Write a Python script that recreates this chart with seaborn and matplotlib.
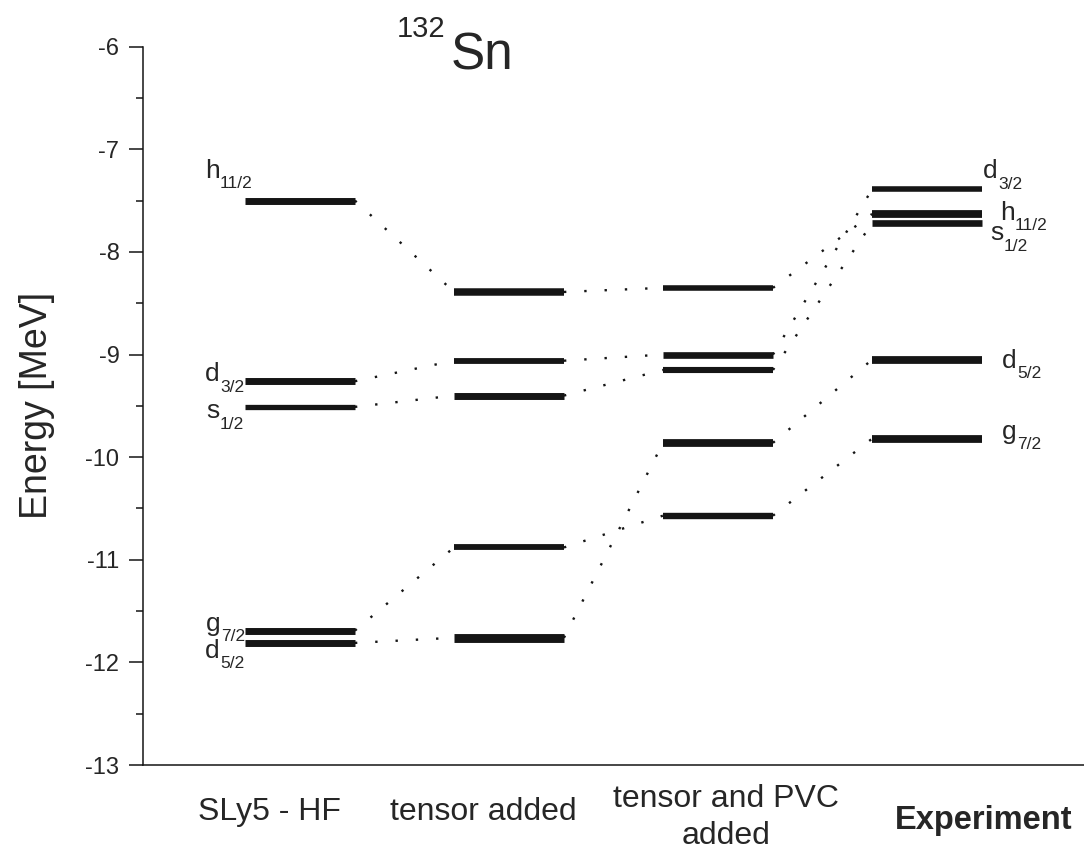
import numpy as np
import pandas as pd
import matplotlib
matplotlib.use("Agg")
import matplotlib.pyplot as plt
import seaborn as sns

# Single-particle proton levels in 132Sn (MeV)
columns = ["SLy5 - HF", "tensor added", "tensor and PVC\nadded", "Experiment"]
orbitals = ["h11/2", "d3/2", "s1/2", "g7/2", "d5/2"]
orb_letter = ["h", "d", "s", "g", "d"]
orb_j = ["11/2", "3/2", "1/2", "7/2", "5/2"]

e_hf = [-7.50, -9.26, -9.51, -11.69, -11.81]
e_tensor = [-8.39, -9.06, -9.40, -10.88, -11.76]
e_pvc = [-8.35, -9.00, -9.15, -10.57, -9.86]
e_exp = [-7.63, -7.39, -7.72, -9.82, -9.05]

yticks = [-13, -12, -11, -10, -9, -8, -7, -6]

# ---- style / layout -------------------------------------------------------
sns.set_theme(style="ticks")
plt.rcParams["font.family"] = ["Liberation Sans", "DejaVu Sans"]

INK = "#151515"
TXT = "#262626"
HALF = 0.263                      # half width of a level bar (column units)
col_x = np.arange(len(columns))   # column centres
label_x = [-0.144, 0.876, 2.038, 3.273]
label_pad = [34, 34, 38, 40]

# bar thickness (pt) per column / orbital
bar_lw = [
    [5.0, 5.0, 3.8, 5.0, 5.0],
    [5.4, 4.2, 5.0, 4.2, 6.4],
    [4.0, 4.8, 4.4, 4.6, 5.6],
    [5.6, 4.0, 4.8, 5.6, 5.6],
]

# level-label offsets (points) relative to the bar ends
hf_off = [(-28.8, 16.6), (-28.8, 0.0), (-28.0, -8.0), (-28.0, 0.0), (-28.8, -10.8)]
exp_off = [(13.0, -4.3), (0.8, 8.0), (5.8, -12.2), (14.4, 0.0), (14.4, -5.8)]

fig = plt.figure(figsize=(10.84, 8.57), dpi=100)
ax = fig.add_axes([143 / 1084, 92 / 857, 1 - 143 / 1084, (765 - 46.7) / 857])

levels = [e_hf, e_tensor, e_pvc, e_exp]

# dotted connectors between neighbouring columns
rows = []
for c in range(len(columns) - 1):
    for k, orb in enumerate(orbitals):
        seg = f"{orb}-{c}"
        rows.append({"seg": seg, "x": col_x[c] + HALF, "E": levels[c][k]})
        rows.append({"seg": seg, "x": col_x[c + 1] - HALF, "E": levels[c + 1][k]})
conn = pd.DataFrame(rows)
sns.lineplot(data=conn, x="x", y="E", units="seg", estimator=None, sort=False,
             color=INK, linewidth=1.7, linestyle=(0, (1, 7.6)), ax=ax,
             legend=False)

# level bars
for c, vals in enumerate(levels):
    for k, e in enumerate(vals):
        ax.hlines(e, col_x[c] - HALF, col_x[c] + HALF, color=INK,
                  linewidth=bar_lw[c][k], capstyle="butt", zorder=3)


def level_label(xy, off, letter, j):
    """Orbital name with a dropped j subscript."""
    main = ax.annotate(letter, xy=xy, xytext=off, textcoords="offset points",
                       ha="left", va="baseline", fontsize=19, color=TXT)
    ax.annotate(j, xy=(1, 0), xycoords=main, xytext=(0.2, -4.0),
                textcoords="offset points", ha="left", va="baseline",
                fontsize=12.5, color=TXT)


# orbital labels: left of the HF column, right of the experimental column
for k in range(len(orbitals)):
    level_label((col_x[0] - HALF, e_hf[k]), hf_off[k], orb_letter[k], orb_j[k])
    level_label((col_x[-1] + HALF, e_exp[k]), exp_off[k], orb_letter[k], orb_j[k])

# axes
ax.set_xlim(-0.751, 3.751)
ax.set_ylim(-13, -6)
ax.set_yticks(yticks)
ax.set_yticklabels([str(t) for t in yticks])
ax.set_yticks(np.arange(-12.5, -6, 1.0), minor=True)
ax.tick_params(axis="y", which="major", length=10, width=1.1, pad=7,
               labelsize=17, colors=INK, labelcolor=TXT)
ax.tick_params(axis="y", which="minor", length=5, width=1.1, colors=INK)
ax.set_ylabel("Energy [MeV]", fontsize=27, color=TXT, labelpad=22)
ax.set_xlabel("")

ax.set_xticks(label_x)
ax.set_xticklabels(columns)
ax.tick_params(axis="x", length=0, labelsize=23, labelcolor=TXT)
for tick, pad in zip(ax.xaxis.get_major_ticks(), label_pad):
    tick.set_pad(pad)
for lab in ax.get_xticklabels():
    lab.set_va("center")
    lab.set_multialignment("center")
    lab.set_linespacing(1.3)
ax.get_xticklabels()[-1].set_fontweight("bold")
ax.get_xticklabels()[-1].set_fontsize(23.5)

for side in ("top", "right"):
    ax.spines[side].set_visible(False)
for side in ("left", "bottom"):
    ax.spines[side].set_linewidth(1.1)
    ax.spines[side].set_color(INK)

# nucleus title inside the frame
ax.text(0.270, 1.0135, "132", transform=ax.transAxes, fontsize=21,
        color=TXT, ha="left", va="baseline")
ax.text(0.327, 0.9676, "Sn", transform=ax.transAxes, fontsize=37,
        color=TXT, ha="left", va="baseline")

fig.savefig("out.png", dpi=100)
